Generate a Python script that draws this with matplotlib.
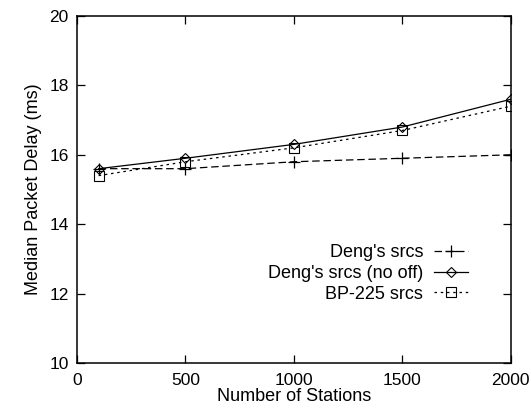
import numpy as np
import matplotlib
matplotlib.use("Agg")
import matplotlib.pyplot as plt

plt.rcParams['font.family'] = ['Liberation Sans', 'DejaVu Sans']

# data
stations = [100, 500, 1000, 1500, 2000]
deng = [15.6, 15.6, 15.8, 15.9, 16.0]
deng_nooff = [15.6, 15.9, 16.3, 16.8, 17.6]
bp225 = [15.4, 15.8, 16.2, 16.7, 17.4]

fig = plt.figure(figsize=(5.31, 4.08), dpi=100)
ax = fig.add_axes([0.145, 0.110, 0.817, 0.851])

ax.plot(stations, deng, color="black", lw=0.9, ls=(0, (6, 3)),
        marker="+", ms=9, mew=0.9, label="Deng's srcs")
ax.plot(stations, deng_nooff, color="black", lw=0.9, ls="-",
        marker="D", ms=5, mfc="none", mew=0.8, label="Deng's srcs (no off)")
ax.plot(stations, bp225, color="black", lw=0.9, ls=(0, (2, 3)),
        marker="s", ms=7, mfc="none", mew=0.8, label="BP-225 srcs")

ax.set_xlim(0, 2000)
ax.set_ylim(10, 20)
ax.set_xticks([0, 500, 1000, 1500, 2000])
ax.set_yticks([10, 12, 14, 16, 18, 20])
ax.tick_params(direction="in", length=6, labelsize=12.5, top=True, right=True,
               width=0.9)
ax.tick_params(axis="x", pad=7)
ax.tick_params(axis="y", pad=6)
for s in ax.spines.values():
    s.set_linewidth(1.1)

ax.set_xlabel("Number of Stations", fontsize=13, labelpad=0)
ax.set_ylabel("Median Packet Delay (ms)", fontsize=13, labelpad=5)

ax.legend(loc="lower right", bbox_to_anchor=(0.923, 0.148), frameon=False,
          markerfirst=False, fontsize=13, handlelength=1.9,
          labelspacing=0.2, handletextpad=0.6, borderpad=0)

fig.savefig("out.png", dpi=100)
